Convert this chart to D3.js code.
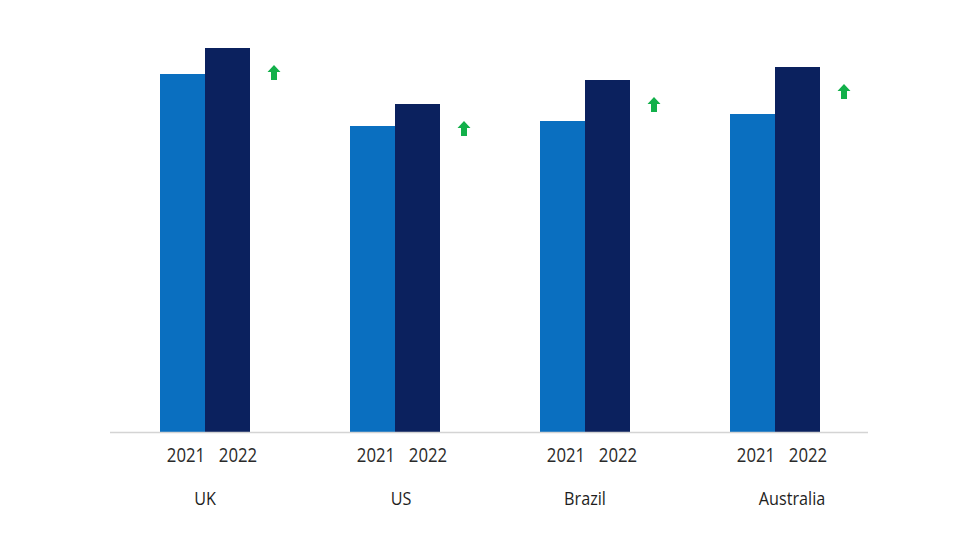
<!DOCTYPE html>
<html><head><meta charset="utf-8">
<script src="https://cdn.jsdelivr.net/npm/d3@7"></script>
<style>html,body{margin:0;padding:0;background:#fff;}svg{display:block;}</style>
</head><body>
<svg id="c" width="980" height="560"></svg>
<script>
const countries = ["UK", "US", "Brazil", "Australia"];
const years = ["2021", "2022"];
const values2021 = [358, 306, 311, 318];
const values2022 = [384, 328, 352, 365];
const colors = ["#0a6fc0", "#0b215e"];

const svg = d3.select("#c");
const baseY = 432;
const y = d3.scaleLinear().domain([0, 400]).range([baseY, 32]);
const x = d3.scaleBand().domain(countries).range([110, 870]).paddingInner(0).paddingOuter(0);
const xi = d3.scaleBand().domain(years).range([-45, 45]);
const font = "'Open Sans', sans-serif";

const data = countries.map((c, i) => ({country: c, vals: [values2021[i], values2022[i]]}));

const g = svg.append("g");
data.forEach(d => {
  const cx = x(d.country) + x.bandwidth() / 2;
  years.forEach((yr, j) => {
    g.append("rect")
      .attr("x", cx + xi(yr))
      .attr("y", y(d.vals[j]))
      .attr("width", xi.bandwidth())
      .attr("height", baseY - y(d.vals[j]))
      .attr("fill", colors[j]);
    const tx = cx + (j === 0 ? -19 : 33);
    g.append("text")
      .attr("transform", `translate(${tx},462) scale(0.86,1)`)
      .attr("text-anchor", "middle")
      .attr("font-family", font)
      .attr("font-size", 19.5)
      .attr("fill", "#2a2a2a")
      .text(yr);
  });
  g.append("text")
    .attr("transform", `translate(${cx + (d.country === "Australia" ? 17 : d.country === "US" ? 6 : 0)},505) scale(0.9,1)`)
    .attr("text-anchor", "middle")
    .attr("font-family", font)
    .attr("font-size", 18)
    .attr("fill", "#1e1e1e")
    .text(d.country);
  // up arrow
  const ax = cx + 69, ay = y(d.vals[1]) + 25;
  g.append("path")
    .attr("d", `M${ax},${ay-8} L${ax+6.5},${ay-1} L${ax+3},${ay-1} L${ax+3},${ay+7} L${ax-3},${ay+7} L${ax-3},${ay-1} L${ax-6.5},${ay-1} Z`)
    .attr("fill", "#12b04a");
});

svg.append("line")
  .attr("x1", 110).attr("x2", 868)
  .attr("y1", baseY + 0.5).attr("y2", baseY + 0.5)
  .attr("stroke", "#d4d4d4").attr("stroke-width", 1.5);
</script>
</body></html>
